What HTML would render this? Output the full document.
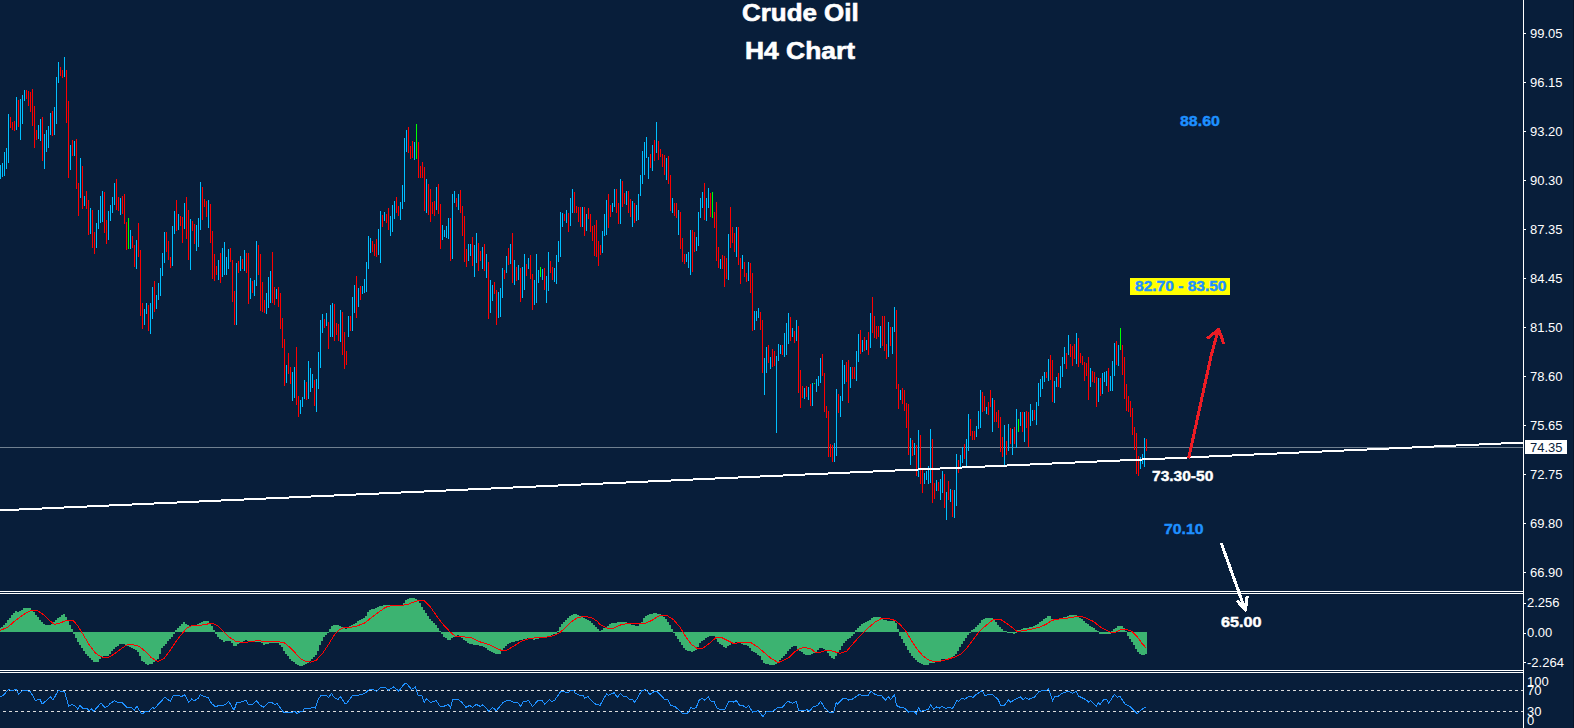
<!DOCTYPE html>
<html><head><meta charset="utf-8"><title>Crude Oil H4 Chart</title>
<style>
html,body{margin:0;padding:0;background:#081e3a;}
body{width:1574px;height:728px;position:relative;overflow:hidden;font-family:"Liberation Sans",sans-serif;}
.t{position:absolute;white-space:nowrap;line-height:1;transform-origin:0 0;}
.ax{color:#fff;font-size:13px;left:1530px;}
.ttl{color:#fff;font-family:"Liberation Sans",sans-serif;font-weight:bold;font-size:23px;-webkit-text-stroke:0.6px #fff;}
.lb{font-family:"Liberation Sans",sans-serif;font-weight:bold;font-size:14px;letter-spacing:0px;-webkit-text-stroke:0.4px currentColor;}
.bl{color:#1e90ff;}
.w{color:#fff;}
</style></head><body>
<svg width="1574" height="728" viewBox="0 0 1574 728" style="position:absolute;left:0;top:0">
<g shape-rendering="crispEdges">
<rect x="0" y="447" width="1523" height="1" fill="#708090"/>
<path fill="#00bfff" d="M0 165v14h1v-14zM2 163v14h1v-14zM4 152v24h1v-24zM6 148v21h1v-21zM8 114v49h1v-49zM16 97v33h1v-33zM20 99v41h1v-41zM22 95v29h1v-29zM24 90v11h1v-11zM38 125v14h1v-14zM40 119v22h1v-22zM44 134v35h1v-35zM46 130v22h1v-22zM48 126v22h1v-22zM50 113v22h1v-22zM54 107v28h1v-28zM56 77v47h1v-47zM58 62v21h1v-21zM64 57v20h1v-20zM70 145v25h1v-25zM74 141v15h1v-15zM80 158v40h1v-40zM84 196v10h1v-10zM90 208v26h1v-26zM96 223v25h1v-25zM98 210v19h1v-19zM100 196v27h1v-27zM102 191v31h1v-31zM108 211v29h1v-29zM110 205v16h1v-16zM112 197v16h1v-16zM114 183v22h1v-22zM120 198v17h1v-17zM130 230v19h1v-19zM136 240v29h1v-29zM144 309v16h1v-16zM146 303v11h1v-11zM150 303v31h1v-31zM152 287v32h1v-32zM156 295v14h1v-14zM158 283v17h1v-17zM160 268v28h1v-28zM162 253v23h1v-23zM164 232v31h1v-31zM172 226v40h1v-40zM174 211v23h1v-23zM178 214v16h1v-16zM184 203v26h1v-26zM190 219v51h1v-51zM196 225v26h1v-26zM198 218v29h1v-29zM200 182v48h1v-48zM208 200v28h1v-28zM218 260v20h1v-20zM222 248v29h1v-29zM224 242v33h1v-33zM226 257v18h1v-18zM228 249v20h1v-20zM236 263v62h1v-62zM240 256v15h1v-15zM244 250v21h1v-21zM250 278v21h1v-21zM254 280v16h1v-16zM256 241v45h1v-45zM266 293v21h1v-21zM268 277v31h1v-31zM270 271v32h1v-32zM276 289v10h1v-10zM286 365v18h1v-18zM292 372v29h1v-29zM294 367v31h1v-31zM300 400v14h1v-14zM302 397v10h1v-10zM304 380v19h1v-19zM308 361v38h1v-38zM310 368v24h1v-24zM312 374v14h1v-14zM316 379v33h1v-33zM318 352v37h1v-37zM320 320v48h1v-48zM322 314v19h1v-19zM326 313v13h1v-13zM330 305v32h1v-32zM332 303v34h1v-34zM340 310v32h1v-32zM348 316v21h1v-21zM352 297v34h1v-34zM354 285v28h1v-28zM358 288v19h1v-19zM362 286v8h1v-8zM364 279v14h1v-14zM366 262v30h1v-30zM368 236v33h1v-33zM370 238v15h1v-15zM378 229v26h1v-26zM380 211v52h1v-52zM384 212v9h1v-9zM390 216v20h1v-20zM392 205v27h1v-27zM394 201v18h1v-18zM400 202v18h1v-18zM402 185v24h1v-24zM404 138v64h1v-64zM406 130v22h1v-22zM414 142v18h1v-18zM426 179v34h1v-34zM436 187v23h1v-23zM442 225v15h1v-15zM444 230v7h1v-7zM446 226v12h1v-12zM448 218v21h1v-21zM452 194v65h1v-65zM454 191v12h1v-12zM458 194v16h1v-16zM468 244v17h1v-17zM470 244v12h1v-12zM474 245v32h1v-32zM476 233v30h1v-30zM482 247v22h1v-22zM486 254v24h1v-24zM490 280v33h1v-33zM492 285v16h1v-16zM498 292v26h1v-26zM500 288v29h1v-29zM502 268v30h1v-30zM506 256v17h1v-17zM510 244v20h1v-20zM514 260v25h1v-25zM518 265v15h1v-15zM522 267v31h1v-31zM524 254v36h1v-36zM528 258v11h1v-11zM534 280v25h1v-25zM536 254v49h1v-49zM538 270v13h1v-13zM542 269v11h1v-11zM546 276v27h1v-27zM548 252v39h1v-39zM554 268v14h1v-14zM556 255v29h1v-29zM558 241v21h1v-21zM560 212v45h1v-45zM562 213v14h1v-14zM566 210v13h1v-13zM570 198v28h1v-28zM572 189v24h1v-24zM582 207v20h1v-20zM586 214v17h1v-17zM602 231v22h1v-22zM604 214v22h1v-22zM606 200v35h1v-35zM612 203v9h1v-9zM614 189v18h1v-18zM620 179v45h1v-45zM626 191v14h1v-14zM632 201v26h1v-26zM636 205v16h1v-16zM638 194v26h1v-26zM640 175v21h1v-21zM642 151v33h1v-33zM644 142v33h1v-33zM646 137v21h1v-21zM648 157v22h1v-22zM652 145v26h1v-26zM656 122v31h1v-31zM666 158v22h1v-22zM672 198v15h1v-15zM678 210v25h1v-25zM686 254v8h1v-8zM688 252v16h1v-16zM690 230v45h1v-45zM696 237v14h1v-14zM698 212v34h1v-34zM700 198v20h1v-20zM702 192v16h1v-16zM706 198v23h1v-23zM708 188v20h1v-20zM720 259v10h1v-10zM728 234v46h1v-46zM736 227v30h1v-30zM742 255v14h1v-14zM748 262v19h1v-19zM754 311v19h1v-19zM756 311v10h1v-10zM758 308v10h1v-10zM764 358v37h1v-37zM766 347v26h1v-26zM770 357v12h1v-12zM776 356v77h1v-77zM778 344v17h1v-17zM780 345v9h1v-9zM784 333v24h1v-24zM786 323v32h1v-32zM788 313v31h1v-31zM792 328v9h1v-9zM796 320v21h1v-21zM804 388v11h1v-11zM808 387v13h1v-13zM812 383v23h1v-23zM816 379v13h1v-13zM818 376v10h1v-10zM820 358v25h1v-25zM834 443v19h1v-19zM836 389v67h1v-67zM840 396v21h1v-21zM842 360v41h1v-41zM844 365v19h1v-19zM850 367v21h1v-21zM856 351v30h1v-30zM858 334v28h1v-28zM862 340v12h1v-12zM866 340v10h1v-10zM870 313v35h1v-35zM880 326v22h1v-22zM888 322v35h1v-35zM892 327v27h1v-27zM894 307v25h1v-25zM900 390v10h1v-10zM910 438v27h1v-27zM914 443v12h1v-12zM918 430v47h1v-47zM924 473v11h1v-11zM926 471v9h1v-9zM928 466v18h1v-18zM930 429v54h1v-54zM936 480v11h1v-11zM940 479v21h1v-21zM942 471v22h1v-22zM946 492v28h1v-28zM950 489v13h1v-13zM954 490v28h1v-28zM956 454v52h1v-52zM960 455v14h1v-14zM962 447v16h1v-16zM966 439v29h1v-29zM968 414v37h1v-37zM976 426v11h1v-11zM978 411v18h1v-18zM980 390v38h1v-38zM986 407v7h1v-7zM992 398v34h1v-34zM1004 425v41h1v-41zM1008 424v27h1v-27zM1012 429v26h1v-26zM1016 409v39h1v-39zM1020 412v14h1v-14zM1024 412v30h1v-30zM1030 404v22h1v-22zM1032 410v11h1v-11zM1036 402v23h1v-23zM1038 383v23h1v-23zM1040 379v18h1v-18zM1042 376v13h1v-13zM1044 372v10h1v-10zM1048 359v22h1v-22zM1054 381v22h1v-22zM1056 377v10h1v-10zM1060 366v22h1v-22zM1062 357v20h1v-20zM1064 347v17h1v-17zM1068 335v20h1v-20zM1076 333v31h1v-31zM1090 368v19h1v-19zM1098 378v24h1v-24zM1102 373v21h1v-21zM1104 372v10h1v-10zM1106 371v15h1v-15zM1110 376v15h1v-15zM1112 361v30h1v-30zM1114 343v33h1v-33zM1118 345v21h1v-21zM1140 457v12h1v-12zM1142 454v10h1v-10zM1144 438v29h1v-29z"/>
<path fill="#ff0000" d="M10 117v11h1v-11zM12 122v8h1v-8zM14 121v10h1v-10zM18 100v27h1v-27zM26 90v9h1v-9zM28 91v15h1v-15zM30 92v20h1v-20zM32 89v37h1v-37zM34 106v42h1v-42zM36 130v10h1v-10zM42 117v44h1v-44zM52 111v25h1v-25zM60 67v9h1v-9zM62 70v8h1v-8zM66 70v53h1v-53zM68 101v77h1v-77zM72 140v16h1v-16zM76 139v50h1v-50zM78 183v33h1v-33zM82 166v43h1v-43zM86 191v18h1v-18zM88 200v35h1v-35zM92 210v38h1v-38zM94 232v22h1v-22zM104 192v41h1v-41zM106 220v24h1v-24zM116 179v31h1v-31zM118 197v14h1v-14zM122 196v18h1v-18zM124 194v30h1v-30zM126 222v28h1v-28zM132 236v12h1v-12zM134 245v22h1v-22zM138 223v34h1v-34zM140 250v66h1v-66zM142 303v26h1v-26zM148 305v26h1v-26zM154 281v31h1v-31zM166 232v20h1v-20zM168 241v19h1v-19zM170 257v11h1v-11zM176 200v31h1v-31zM180 216v10h1v-10zM182 217v26h1v-26zM186 197v42h1v-42zM188 210v50h1v-50zM192 221v10h1v-10zM194 224v20h1v-20zM202 187v33h1v-33zM204 199v8h1v-8zM206 201v16h1v-16zM210 204v39h1v-39zM212 231v48h1v-48zM214 254v27h1v-27zM216 266v9h1v-9zM220 253v30h1v-30zM230 248v14h1v-14zM232 260v42h1v-42zM234 291v34h1v-34zM238 261v12h1v-12zM242 259v10h1v-10zM246 253v20h1v-20zM248 253v51h1v-51zM252 281v12h1v-12zM258 245v30h1v-30zM260 254v57h1v-57zM262 282v30h1v-30zM264 300v13h1v-13zM272 252v51h1v-51zM274 287v18h1v-18zM278 287v20h1v-20zM280 293v36h1v-36zM282 318v30h1v-30zM284 339v47h1v-47zM288 353v21h1v-21zM290 367v17h1v-17zM296 347v58h1v-58zM298 396v21h1v-21zM306 382v18h1v-18zM314 380v26h1v-26zM324 319v9h1v-9zM328 322v27h1v-27zM334 304v37h1v-37zM336 323v12h1v-12zM338 324v17h1v-17zM342 312v43h1v-43zM344 332v37h1v-37zM346 351v14h1v-14zM350 316v15h1v-15zM356 276v42h1v-42zM360 286v14h1v-14zM372 241v11h1v-11zM374 244v12h1v-12zM376 239v18h1v-18zM382 215v12h1v-12zM386 214v9h1v-9zM388 208v22h1v-22zM396 197v16h1v-16zM398 206v10h1v-10zM408 127v26h1v-26zM410 146v13h1v-13zM412 141v17h1v-17zM418 142v36h1v-36zM420 166v12h1v-12zM422 162v16h1v-16zM424 167v44h1v-44zM428 184v31h1v-31zM430 189v33h1v-33zM432 202v12h1v-12zM434 201v15h1v-15zM438 184v30h1v-30zM440 204v45h1v-45zM450 218v43h1v-43zM456 198v9h1v-9zM460 190v23h1v-23zM462 206v30h1v-30zM464 216v46h1v-46zM466 249v18h1v-18zM472 237v29h1v-29zM478 243v28h1v-28zM480 251v10h1v-10zM484 244v27h1v-27zM488 262v57h1v-57zM494 282v12h1v-12zM496 290v35h1v-35zM504 270v9h1v-9zM508 248v17h1v-17zM512 233v50h1v-50zM516 267v14h1v-14zM520 268v34h1v-34zM526 264v12h1v-12zM530 255v24h1v-24zM532 274v36h1v-36zM544 268v22h1v-22zM550 261v12h1v-12zM552 267v13h1v-13zM564 214v7h1v-7zM568 213v19h1v-19zM574 192v21h1v-21zM576 206v7h1v-7zM578 207v15h1v-15zM580 207v20h1v-20zM584 207v29h1v-29zM588 208v11h1v-11zM590 214v18h1v-18zM592 226v15h1v-15zM594 225v31h1v-31zM596 220v37h1v-37zM598 241v25h1v-25zM600 245v10h1v-10zM608 194v34h1v-34zM610 205v12h1v-12zM616 189v24h1v-24zM618 203v21h1v-21zM622 181v26h1v-26zM624 193v11h1v-11zM628 191v22h1v-22zM630 199v18h1v-18zM634 203v20h1v-20zM650 154v14h1v-14zM654 140v21h1v-21zM658 141v19h1v-19zM660 149v8h1v-8zM662 154v13h1v-13zM664 155v20h1v-20zM668 156v28h1v-28zM670 175v36h1v-36zM674 203v13h1v-13zM676 203v15h1v-15zM680 212v37h1v-37zM682 238v24h1v-24zM684 254v10h1v-10zM692 230v42h1v-42zM694 232v20h1v-20zM704 183v37h1v-37zM710 193v24h1v-24zM714 212v16h1v-16zM716 202v59h1v-59zM718 247v21h1v-21zM722 255v14h1v-14zM724 256v31h1v-31zM726 258v21h1v-21zM730 207v41h1v-41zM732 227v16h1v-16zM734 233v19h1v-19zM738 227v38h1v-38zM740 258v26h1v-26zM744 262v15h1v-15zM746 273v9h1v-9zM750 263v30h1v-30zM752 273v58h1v-58zM760 312v18h1v-18zM762 320v53h1v-53zM768 345v18h1v-18zM772 349v18h1v-18zM774 351v15h1v-15zM782 345v10h1v-10zM790 317v24h1v-24zM794 331v12h1v-12zM798 326v67h1v-67zM800 370v38h1v-38zM802 386v12h1v-12zM806 386v11h1v-11zM810 384v22h1v-22zM822 354v22h1v-22zM824 373v39h1v-39zM826 406v12h1v-12zM828 411v46h1v-46zM830 444v13h1v-13zM832 445v17h1v-17zM838 394v19h1v-19zM846 362v20h1v-20zM848 360v43h1v-43zM852 367v12h1v-12zM854 367v12h1v-12zM860 330v24h1v-24zM864 337v14h1v-14zM868 332v23h1v-23zM872 297v36h1v-36zM874 316v22h1v-22zM876 326v13h1v-13zM878 326v11h1v-11zM882 316v30h1v-30zM884 316v35h1v-35zM886 344v15h1v-15zM890 327v19h1v-19zM896 310v79h1v-79zM898 384v25h1v-25zM902 388v16h1v-16zM904 390v21h1v-21zM906 403v25h1v-25zM908 404v51h1v-51zM912 440v16h1v-16zM916 445v31h1v-31zM920 435v49h1v-49zM922 470v23h1v-23zM932 439v64h1v-64zM934 483v16h1v-16zM938 482v9h1v-9zM944 474v34h1v-34zM948 481v19h1v-19zM952 490v27h1v-27zM958 460v13h1v-13zM964 444v15h1v-15zM970 419v17h1v-17zM972 431v9h1v-9zM974 431v9h1v-9zM982 392v20h1v-20zM984 396v15h1v-15zM988 402v13h1v-13zM990 390v17h1v-17zM994 400v22h1v-22zM996 412v10h1v-10zM998 410v18h1v-18zM1000 417v35h1v-35zM1002 437v20h1v-20zM1006 441v14h1v-14zM1010 428v16h1v-16zM1014 427v17h1v-17zM1022 412v20h1v-20zM1026 411v17h1v-17zM1028 412v35h1v-35zM1034 410v10h1v-10zM1046 372v6h1v-6zM1050 355v25h1v-25zM1052 360v42h1v-42zM1058 373v14h1v-14zM1066 353v16h1v-16zM1070 344v13h1v-13zM1072 346v20h1v-20zM1074 344v15h1v-15zM1078 338v29h1v-29zM1080 353v10h1v-10zM1082 356v9h1v-9zM1084 362v19h1v-19zM1086 363v13h1v-13zM1088 357v43h1v-43zM1092 371v11h1v-11zM1094 372v11h1v-11zM1096 377v30h1v-30zM1100 378v18h1v-18zM1108 368v24h1v-24zM1116 341v24h1v-24zM1122 345v30h1v-30zM1124 357v42h1v-42zM1126 384v27h1v-27zM1128 396v16h1v-16zM1130 401v16h1v-16zM1132 408v27h1v-27zM1134 427v23h1v-23zM1136 433v41h1v-41zM1138 456v20h1v-20zM1146 439v12h1v-12z"/>
<path fill="#00ff00" d="M128 218v31h1v-31zM416 124v35h1v-35zM540 267v10h1v-10zM712 192v26h1v-26zM814 383v1h1v-1zM1018 419v13h1v-13zM1120 328v22h1v-22z"/>
<path fill="#3cb371" d="M-1 628h2v4h-2zM1 627h2v5h-2zM3 625h2v7h-2zM5 623h2v9h-2zM7 620h2v12h-2zM9 618h2v14h-2zM11 615h2v17h-2zM13 613h2v19h-2zM15 611h2v21h-2zM17 612h2v20h-2zM19 611h2v21h-2zM21 610h2v22h-2zM23 608h2v24h-2zM25 608h2v24h-2zM27 608h2v24h-2zM29 608h2v24h-2zM31 610h2v22h-2zM33 612h2v20h-2zM35 615h2v17h-2zM37 617h2v15h-2zM39 620h2v12h-2zM41 622h2v10h-2zM43 624h2v8h-2zM45 625h2v7h-2zM47 625h2v7h-2zM49 625h2v7h-2zM51 624h2v8h-2zM53 622h2v10h-2zM55 620h2v12h-2zM57 618h2v14h-2zM59 617h2v15h-2zM61 615h2v17h-2zM63 614h2v18h-2zM65 617h2v15h-2zM67 621h2v11h-2zM69 625h2v7h-2zM71 629h2v3h-2zM73 632h2v2h-2zM75 632h2v6h-2zM77 632h2v10h-2zM79 632h2v13h-2zM81 632h2v16h-2zM83 632h2v19h-2zM85 632h2v22h-2zM87 632h2v24h-2zM89 632h2v26h-2zM91 632h2v28h-2zM93 632h2v30h-2zM95 632h2v30h-2zM97 632h2v30h-2zM99 632h2v27h-2zM101 632h2v25h-2zM103 632h2v24h-2zM105 632h2v24h-2zM107 632h2v24h-2zM109 632h2v22h-2zM111 632h2v19h-2zM113 632h2v17h-2zM115 632h2v15h-2zM117 632h2v14h-2zM119 632h2v12h-2zM121 632h2v12h-2zM123 632h2v12h-2zM125 632h2v13h-2zM127 632h2v14h-2zM129 632h2v15h-2zM131 632h2v16h-2zM133 632h2v17h-2zM135 632h2v18h-2zM137 632h2v20h-2zM139 632h2v24h-2zM141 632h2v29h-2zM143 632h2v30h-2zM145 632h2v32h-2zM147 632h2v33h-2zM149 632h2v32h-2zM151 632h2v32h-2zM153 632h2v30h-2zM155 632h2v29h-2zM157 632h2v27h-2zM159 632h2v22h-2zM161 632h2v16h-2zM163 632h2v14h-2zM165 632h2v12h-2zM167 632h2v9h-2zM169 632h2v7h-2zM171 632h2v5h-2zM173 632h2v2h-2zM175 630h2v2h-2zM177 628h2v4h-2zM179 626h2v6h-2zM181 624h2v8h-2zM183 622h2v10h-2zM185 624h2v8h-2zM187 625h2v7h-2zM189 626h2v6h-2zM191 626h2v6h-2zM193 626h2v6h-2zM195 625h2v7h-2zM197 624h2v8h-2zM199 623h2v9h-2zM201 622h2v10h-2zM203 621h2v11h-2zM205 621h2v11h-2zM207 621h2v11h-2zM209 623h2v9h-2zM211 626h2v6h-2zM213 630h2v2h-2zM215 632h2v2h-2zM217 632h2v5h-2zM219 632h2v7h-2zM221 632h2v8h-2zM223 632h2v10h-2zM225 632h2v9h-2zM227 632h2v9h-2zM229 632h2v9h-2zM231 632h2v11h-2zM233 632h2v14h-2zM235 632h2v14h-2zM237 632h2v12h-2zM239 632h2v11h-2zM241 632h2v10h-2zM243 632h2v9h-2zM245 632h2v8h-2zM247 632h2v9h-2zM249 632h2v9h-2zM251 632h2v10h-2zM253 632h2v10h-2zM255 632h2v10h-2zM257 632h2v10h-2zM259 632h2v10h-2zM261 632h2v11h-2zM263 632h2v13h-2zM265 632h2v12h-2zM267 632h2v12h-2zM269 632h2v11h-2zM271 632h2v11h-2zM273 632h2v11h-2zM275 632h2v11h-2zM277 632h2v11h-2zM279 632h2v13h-2zM281 632h2v15h-2zM283 632h2v19h-2zM285 632h2v22h-2zM287 632h2v24h-2zM289 632h2v27h-2zM291 632h2v29h-2zM293 632h2v30h-2zM295 632h2v32h-2zM297 632h2v33h-2zM299 632h2v34h-2zM301 632h2v34h-2zM303 632h2v33h-2zM305 632h2v32h-2zM307 632h2v31h-2zM309 632h2v29h-2zM311 632h2v27h-2zM313 632h2v25h-2zM315 632h2v23h-2zM317 632h2v19h-2zM319 632h2v13h-2zM321 632h2v9h-2zM323 632h2v5h-2zM325 632h2v3h-2zM327 632h2v1h-2zM329 629h2v3h-2zM331 626h2v6h-2zM333 625h2v7h-2zM335 625h2v7h-2zM337 625h2v7h-2zM339 626h2v6h-2zM341 627h2v5h-2zM343 628h2v4h-2zM345 629h2v3h-2zM347 628h2v4h-2zM349 626h2v6h-2zM351 625h2v7h-2zM353 624h2v8h-2zM355 623h2v9h-2zM357 621h2v11h-2zM359 620h2v12h-2zM361 619h2v13h-2zM363 618h2v14h-2zM365 616h2v16h-2zM367 612h2v20h-2zM369 610h2v22h-2zM371 609h2v23h-2zM373 609h2v23h-2zM375 608h2v24h-2zM377 607h2v25h-2zM379 606h2v26h-2zM381 606h2v26h-2zM383 605h2v27h-2zM385 605h2v27h-2zM387 605h2v27h-2zM389 605h2v27h-2zM391 605h2v27h-2zM393 605h2v27h-2zM395 605h2v27h-2zM397 605h2v27h-2zM399 606h2v26h-2zM401 606h2v26h-2zM403 603h2v29h-2zM405 600h2v32h-2zM407 599h2v33h-2zM409 598h2v34h-2zM411 598h2v34h-2zM413 598h2v34h-2zM415 599h2v33h-2zM417 601h2v31h-2zM419 603h2v29h-2zM421 607h2v25h-2zM423 610h2v22h-2zM425 613h2v19h-2zM427 616h2v16h-2zM429 619h2v13h-2zM431 621h2v11h-2zM433 623h2v9h-2zM435 625h2v7h-2zM437 628h2v4h-2zM439 631h2v1h-2zM441 632h2v2h-2zM443 632h2v5h-2zM445 632h2v6h-2zM447 632h2v8h-2zM449 632h2v8h-2zM451 632h2v6h-2zM453 632h2v5h-2zM455 632h2v4h-2zM457 632h2v3h-2zM459 632h2v4h-2zM461 632h2v6h-2zM463 632h2v8h-2zM465 632h2v9h-2zM467 632h2v11h-2zM469 632h2v12h-2zM471 632h2v12h-2zM473 632h2v13h-2zM475 632h2v13h-2zM477 632h2v13h-2zM479 632h2v14h-2zM481 632h2v14h-2zM483 632h2v15h-2zM485 632h2v16h-2zM487 632h2v18h-2zM489 632h2v19h-2zM491 632h2v20h-2zM493 632h2v21h-2zM495 632h2v22h-2zM497 632h2v22h-2zM499 632h2v22h-2zM501 632h2v19h-2zM503 632h2v16h-2zM505 632h2v14h-2zM507 632h2v12h-2zM509 632h2v11h-2zM511 632h2v10h-2zM513 632h2v10h-2zM515 632h2v9h-2zM517 632h2v9h-2zM519 632h2v8h-2zM521 632h2v8h-2zM523 632h2v7h-2zM525 632h2v7h-2zM527 632h2v6h-2zM529 632h2v7h-2zM531 632h2v7h-2zM533 632h2v8h-2zM535 632h2v7h-2zM537 632h2v7h-2zM539 632h2v6h-2zM541 632h2v5h-2zM543 632h2v5h-2zM545 632h2v5h-2zM547 632h2v4h-2zM549 632h2v4h-2zM551 632h2v3h-2zM553 632h2v2h-2zM555 632h2v2h-2zM557 631h2v1h-2zM559 627h2v5h-2zM561 624h2v8h-2zM563 622h2v10h-2zM565 620h2v12h-2zM567 618h2v14h-2zM569 616h2v16h-2zM571 615h2v17h-2zM573 614h2v18h-2zM575 614h2v18h-2zM577 615h2v17h-2zM579 616h2v16h-2zM581 617h2v15h-2zM583 618h2v14h-2zM585 619h2v13h-2zM587 620h2v12h-2zM589 621h2v11h-2zM591 623h2v9h-2zM593 625h2v7h-2zM595 627h2v5h-2zM597 629h2v3h-2zM599 631h2v1h-2zM601 630h2v2h-2zM603 628h2v4h-2zM605 627h2v5h-2zM607 626h2v6h-2zM609 624h2v8h-2zM611 623h2v9h-2zM613 623h2v9h-2zM615 623h2v9h-2zM617 622h2v10h-2zM619 622h2v10h-2zM621 622h2v10h-2zM623 622h2v10h-2zM625 622h2v10h-2zM627 623h2v9h-2zM629 624h2v8h-2zM631 625h2v7h-2zM633 625h2v7h-2zM635 626h2v6h-2zM637 626h2v6h-2zM639 624h2v8h-2zM641 622h2v10h-2zM643 618h2v14h-2zM645 616h2v16h-2zM647 615h2v17h-2zM649 614h2v18h-2zM651 614h2v18h-2zM653 613h2v19h-2zM655 613h2v19h-2zM657 614h2v18h-2zM659 614h2v18h-2zM661 616h2v16h-2zM663 617h2v15h-2zM665 619h2v13h-2zM667 622h2v10h-2zM669 625h2v7h-2zM671 629h2v3h-2zM673 632h2v1h-2zM675 632h2v4h-2zM677 632h2v7h-2zM679 632h2v10h-2zM681 632h2v13h-2zM683 632h2v16h-2zM685 632h2v18h-2zM687 632h2v19h-2zM689 632h2v19h-2zM691 632h2v20h-2zM693 632h2v19h-2zM695 632h2v18h-2zM697 632h2v15h-2zM699 632h2v11h-2zM701 632h2v9h-2zM703 632h2v8h-2zM705 632h2v6h-2zM707 632h2v5h-2zM709 632h2v4h-2zM711 632h2v4h-2zM713 632h2v4h-2zM715 632h2v7h-2zM717 632h2v10h-2zM719 632h2v12h-2zM721 632h2v13h-2zM723 632h2v15h-2zM725 632h2v16h-2zM727 632h2v14h-2zM729 632h2v13h-2zM731 632h2v11h-2zM733 632h2v11h-2zM735 632h2v10h-2zM737 632h2v10h-2zM739 632h2v11h-2zM741 632h2v12h-2zM743 632h2v13h-2zM745 632h2v13h-2zM747 632h2v14h-2zM749 632h2v16h-2zM751 632h2v19h-2zM753 632h2v20h-2zM755 632h2v21h-2zM757 632h2v23h-2zM759 632h2v24h-2zM761 632h2v28h-2zM763 632h2v31h-2zM765 632h2v32h-2zM767 632h2v32h-2zM769 632h2v33h-2zM771 632h2v33h-2zM773 632h2v33h-2zM775 632h2v32h-2zM777 632h2v30h-2zM779 632h2v28h-2zM781 632h2v26h-2zM783 632h2v24h-2zM785 632h2v22h-2zM787 632h2v19h-2zM789 632h2v17h-2zM791 632h2v15h-2zM793 632h2v14h-2zM795 632h2v14h-2zM797 632h2v17h-2zM799 632h2v19h-2zM801 632h2v20h-2zM803 632h2v22h-2zM805 632h2v23h-2zM807 632h2v23h-2zM809 632h2v23h-2zM811 632h2v22h-2zM813 632h2v21h-2zM815 632h2v20h-2zM817 632h2v18h-2zM819 632h2v16h-2zM821 632h2v16h-2zM823 632h2v17h-2zM825 632h2v18h-2zM827 632h2v21h-2zM829 632h2v24h-2zM831 632h2v26h-2zM833 632h2v27h-2zM835 632h2v24h-2zM837 632h2v21h-2zM839 632h2v18h-2zM841 632h2v14h-2zM843 632h2v11h-2zM845 632h2v9h-2zM847 632h2v7h-2zM849 632h2v6h-2zM851 632h2v4h-2zM853 632h2v2h-2zM855 630h2v2h-2zM857 628h2v4h-2zM859 626h2v6h-2zM861 624h2v8h-2zM863 623h2v9h-2zM865 622h2v10h-2zM867 621h2v11h-2zM869 620h2v12h-2zM871 618h2v14h-2zM873 617h2v15h-2zM875 617h2v15h-2zM877 617h2v15h-2zM879 617h2v15h-2zM881 618h2v14h-2zM883 620h2v12h-2zM885 620h2v12h-2zM887 621h2v11h-2zM889 621h2v11h-2zM891 621h2v11h-2zM893 621h2v11h-2zM895 623h2v9h-2zM897 629h2v3h-2zM899 632h2v4h-2zM901 632h2v7h-2zM903 632h2v11h-2zM905 632h2v14h-2zM907 632h2v18h-2zM909 632h2v21h-2zM911 632h2v24h-2zM913 632h2v26h-2zM915 632h2v28h-2zM917 632h2v30h-2zM919 632h2v31h-2zM921 632h2v32h-2zM923 632h2v33h-2zM925 632h2v33h-2zM927 632h2v33h-2zM929 632h2v31h-2zM931 632h2v31h-2zM933 632h2v31h-2zM935 632h2v30h-2zM937 632h2v29h-2zM939 632h2v29h-2zM941 632h2v27h-2zM943 632h2v27h-2zM945 632h2v27h-2zM947 632h2v28h-2zM949 632h2v27h-2zM951 632h2v26h-2zM953 632h2v24h-2zM955 632h2v22h-2zM957 632h2v19h-2zM959 632h2v15h-2zM961 632h2v12h-2zM963 632h2v9h-2zM965 632h2v6h-2zM967 632h2v3h-2zM969 632h2v1h-2zM971 630h2v2h-2zM973 629h2v3h-2zM975 627h2v5h-2zM977 625h2v7h-2zM979 623h2v9h-2zM981 620h2v12h-2zM983 619h2v13h-2zM985 618h2v14h-2zM987 618h2v14h-2zM989 618h2v14h-2zM991 618h2v14h-2zM993 620h2v12h-2zM995 622h2v10h-2zM997 625h2v7h-2zM999 627h2v5h-2zM1001 629h2v3h-2zM1003 631h2v1h-2zM1005 631h2v1h-2zM1007 632h2v1h-2zM1009 632h2v1h-2zM1011 632h2v1h-2zM1013 632h2v2h-2zM1015 632h2v1h-2zM1017 630h2v2h-2zM1019 630h2v2h-2zM1021 629h2v3h-2zM1023 628h2v4h-2zM1025 628h2v4h-2zM1027 628h2v4h-2zM1029 627h2v5h-2zM1031 627h2v5h-2zM1033 626h2v6h-2zM1035 625h2v7h-2zM1037 624h2v8h-2zM1039 622h2v10h-2zM1041 621h2v11h-2zM1043 619h2v13h-2zM1045 618h2v14h-2zM1047 616h2v16h-2zM1049 616h2v16h-2zM1051 619h2v13h-2zM1053 619h2v13h-2zM1055 619h2v13h-2zM1057 619h2v13h-2zM1059 618h2v14h-2zM1061 618h2v14h-2zM1063 617h2v15h-2zM1065 617h2v15h-2zM1067 616h2v16h-2zM1069 615h2v17h-2zM1071 615h2v17h-2zM1073 615h2v17h-2zM1075 615h2v17h-2zM1077 617h2v15h-2zM1079 618h2v14h-2zM1081 619h2v13h-2zM1083 621h2v11h-2zM1085 623h2v9h-2zM1087 624h2v8h-2zM1089 626h2v6h-2zM1091 627h2v5h-2zM1093 628h2v4h-2zM1095 630h2v2h-2zM1097 631h2v1h-2zM1099 632h2v2h-2zM1101 632h2v2h-2zM1103 632h2v2h-2zM1105 632h2v2h-2zM1107 632h2v2h-2zM1109 632h2v2h-2zM1111 631h2v1h-2zM1113 629h2v3h-2zM1115 628h2v4h-2zM1117 626h2v6h-2zM1119 626h2v6h-2zM1121 626h2v6h-2zM1123 628h2v4h-2zM1125 631h2v1h-2zM1127 632h2v4h-2zM1129 632h2v7h-2zM1131 632h2v10h-2zM1133 632h2v13h-2zM1135 632h2v17h-2zM1137 632h2v20h-2zM1139 632h2v22h-2zM1141 632h2v23h-2zM1143 632h2v23h-2zM1145 632h2v22h-2z"/>
<rect x="0" y="591" width="1524" height="1" fill="#fff"/>
<rect x="0" y="593" width="1524" height="1" fill="#fff"/>
<rect x="0" y="670" width="1524" height="1" fill="#fff"/>
<rect x="0" y="672" width="1524" height="1" fill="#fff"/>
<rect x="1523" y="0" width="1" height="728" fill="#fff"/>
<rect x="1524" y="33" width="2" height="1" fill="#fff"/>
<rect x="1524" y="82" width="2" height="1" fill="#fff"/>
<rect x="1524" y="131" width="2" height="1" fill="#fff"/>
<rect x="1524" y="180" width="2" height="1" fill="#fff"/>
<rect x="1524" y="229" width="2" height="1" fill="#fff"/>
<rect x="1524" y="278" width="2" height="1" fill="#fff"/>
<rect x="1524" y="327" width="2" height="1" fill="#fff"/>
<rect x="1524" y="376" width="2" height="1" fill="#fff"/>
<rect x="1524" y="425" width="2" height="1" fill="#fff"/>
<rect x="1524" y="474" width="2" height="1" fill="#fff"/>
<rect x="1524" y="523" width="2" height="1" fill="#fff"/>
<rect x="1524" y="572" width="2" height="1" fill="#fff"/>
<rect x="1524" y="603" width="2" height="1" fill="#fff"/>
<rect x="1524" y="633" width="2" height="1" fill="#fff"/>
<rect x="1524" y="662" width="2" height="1" fill="#fff"/>
<rect x="1573" y="0" width="1" height="728" fill="#05142a"/>
<rect x="1525" y="440" width="42" height="14" fill="#fff"/>
<rect x="1130" y="278" width="100" height="17" fill="#ffff00"/>
<path fill="#dcdcdc" d="M3 690h3v1h-3zM9 690h3v1h-3zM15 690h3v1h-3zM21 690h3v1h-3zM27 690h3v1h-3zM33 690h3v1h-3zM39 690h3v1h-3zM45 690h3v1h-3zM51 690h3v1h-3zM57 690h3v1h-3zM63 690h3v1h-3zM69 690h3v1h-3zM75 690h3v1h-3zM81 690h3v1h-3zM87 690h3v1h-3zM93 690h3v1h-3zM99 690h3v1h-3zM105 690h3v1h-3zM111 690h3v1h-3zM117 690h3v1h-3zM123 690h3v1h-3zM129 690h3v1h-3zM135 690h3v1h-3zM141 690h3v1h-3zM147 690h3v1h-3zM153 690h3v1h-3zM159 690h3v1h-3zM165 690h3v1h-3zM171 690h3v1h-3zM177 690h3v1h-3zM183 690h3v1h-3zM189 690h3v1h-3zM195 690h3v1h-3zM201 690h3v1h-3zM207 690h3v1h-3zM213 690h3v1h-3zM219 690h3v1h-3zM225 690h3v1h-3zM231 690h3v1h-3zM237 690h3v1h-3zM243 690h3v1h-3zM249 690h3v1h-3zM255 690h3v1h-3zM261 690h3v1h-3zM267 690h3v1h-3zM273 690h3v1h-3zM279 690h3v1h-3zM285 690h3v1h-3zM291 690h3v1h-3zM297 690h3v1h-3zM303 690h3v1h-3zM309 690h3v1h-3zM315 690h3v1h-3zM321 690h3v1h-3zM327 690h3v1h-3zM333 690h3v1h-3zM339 690h3v1h-3zM345 690h3v1h-3zM351 690h3v1h-3zM357 690h3v1h-3zM363 690h3v1h-3zM369 690h3v1h-3zM375 690h3v1h-3zM381 690h3v1h-3zM387 690h3v1h-3zM393 690h3v1h-3zM399 690h3v1h-3zM405 690h3v1h-3zM411 690h3v1h-3zM417 690h3v1h-3zM423 690h3v1h-3zM429 690h3v1h-3zM435 690h3v1h-3zM441 690h3v1h-3zM447 690h3v1h-3zM453 690h3v1h-3zM459 690h3v1h-3zM465 690h3v1h-3zM471 690h3v1h-3zM477 690h3v1h-3zM483 690h3v1h-3zM489 690h3v1h-3zM495 690h3v1h-3zM501 690h3v1h-3zM507 690h3v1h-3zM513 690h3v1h-3zM519 690h3v1h-3zM525 690h3v1h-3zM531 690h3v1h-3zM537 690h3v1h-3zM543 690h3v1h-3zM549 690h3v1h-3zM555 690h3v1h-3zM561 690h3v1h-3zM567 690h3v1h-3zM573 690h3v1h-3zM579 690h3v1h-3zM585 690h3v1h-3zM591 690h3v1h-3zM597 690h3v1h-3zM603 690h3v1h-3zM609 690h3v1h-3zM615 690h3v1h-3zM621 690h3v1h-3zM627 690h3v1h-3zM633 690h3v1h-3zM639 690h3v1h-3zM645 690h3v1h-3zM651 690h3v1h-3zM657 690h3v1h-3zM663 690h3v1h-3zM669 690h3v1h-3zM675 690h3v1h-3zM681 690h3v1h-3zM687 690h3v1h-3zM693 690h3v1h-3zM699 690h3v1h-3zM705 690h3v1h-3zM711 690h3v1h-3zM717 690h3v1h-3zM723 690h3v1h-3zM729 690h3v1h-3zM735 690h3v1h-3zM741 690h3v1h-3zM747 690h3v1h-3zM753 690h3v1h-3zM759 690h3v1h-3zM765 690h3v1h-3zM771 690h3v1h-3zM777 690h3v1h-3zM783 690h3v1h-3zM789 690h3v1h-3zM795 690h3v1h-3zM801 690h3v1h-3zM807 690h3v1h-3zM813 690h3v1h-3zM819 690h3v1h-3zM825 690h3v1h-3zM831 690h3v1h-3zM837 690h3v1h-3zM843 690h3v1h-3zM849 690h3v1h-3zM855 690h3v1h-3zM861 690h3v1h-3zM867 690h3v1h-3zM873 690h3v1h-3zM879 690h3v1h-3zM885 690h3v1h-3zM891 690h3v1h-3zM897 690h3v1h-3zM903 690h3v1h-3zM909 690h3v1h-3zM915 690h3v1h-3zM921 690h3v1h-3zM927 690h3v1h-3zM933 690h3v1h-3zM939 690h3v1h-3zM945 690h3v1h-3zM951 690h3v1h-3zM957 690h3v1h-3zM963 690h3v1h-3zM969 690h3v1h-3zM975 690h3v1h-3zM981 690h3v1h-3zM987 690h3v1h-3zM993 690h3v1h-3zM999 690h3v1h-3zM1005 690h3v1h-3zM1011 690h3v1h-3zM1017 690h3v1h-3zM1023 690h3v1h-3zM1029 690h3v1h-3zM1035 690h3v1h-3zM1041 690h3v1h-3zM1047 690h3v1h-3zM1053 690h3v1h-3zM1059 690h3v1h-3zM1065 690h3v1h-3zM1071 690h3v1h-3zM1077 690h3v1h-3zM1083 690h3v1h-3zM1089 690h3v1h-3zM1095 690h3v1h-3zM1101 690h3v1h-3zM1107 690h3v1h-3zM1113 690h3v1h-3zM1119 690h3v1h-3zM1125 690h3v1h-3zM1131 690h3v1h-3zM1137 690h3v1h-3zM1143 690h3v1h-3zM1149 690h3v1h-3zM1155 690h3v1h-3zM1161 690h3v1h-3zM1167 690h3v1h-3zM1173 690h3v1h-3zM1179 690h3v1h-3zM1185 690h3v1h-3zM1191 690h3v1h-3zM1197 690h3v1h-3zM1203 690h3v1h-3zM1209 690h3v1h-3zM1215 690h3v1h-3zM1221 690h3v1h-3zM1227 690h3v1h-3zM1233 690h3v1h-3zM1239 690h3v1h-3zM1245 690h3v1h-3zM1251 690h3v1h-3zM1257 690h3v1h-3zM1263 690h3v1h-3zM1269 690h3v1h-3zM1275 690h3v1h-3zM1281 690h3v1h-3zM1287 690h3v1h-3zM1293 690h3v1h-3zM1299 690h3v1h-3zM1305 690h3v1h-3zM1311 690h3v1h-3zM1317 690h3v1h-3zM1323 690h3v1h-3zM1329 690h3v1h-3zM1335 690h3v1h-3zM1341 690h3v1h-3zM1347 690h3v1h-3zM1353 690h3v1h-3zM1359 690h3v1h-3zM1365 690h3v1h-3zM1371 690h3v1h-3zM1377 690h3v1h-3zM1383 690h3v1h-3zM1389 690h3v1h-3zM1395 690h3v1h-3zM1401 690h3v1h-3zM1407 690h3v1h-3zM1413 690h3v1h-3zM1419 690h3v1h-3zM1425 690h3v1h-3zM1431 690h3v1h-3zM1437 690h3v1h-3zM1443 690h3v1h-3zM1449 690h3v1h-3zM1455 690h3v1h-3zM1461 690h3v1h-3zM1467 690h3v1h-3zM1473 690h3v1h-3zM1479 690h3v1h-3zM1485 690h3v1h-3zM1491 690h3v1h-3zM1497 690h3v1h-3zM1503 690h3v1h-3zM1509 690h3v1h-3zM1515 690h3v1h-3zM1521 690h2v1h-2zM3 711h3v1h-3zM9 711h3v1h-3zM15 711h3v1h-3zM21 711h3v1h-3zM27 711h3v1h-3zM33 711h3v1h-3zM39 711h3v1h-3zM45 711h3v1h-3zM51 711h3v1h-3zM57 711h3v1h-3zM63 711h3v1h-3zM69 711h3v1h-3zM75 711h3v1h-3zM81 711h3v1h-3zM87 711h3v1h-3zM93 711h3v1h-3zM99 711h3v1h-3zM105 711h3v1h-3zM111 711h3v1h-3zM117 711h3v1h-3zM123 711h3v1h-3zM129 711h3v1h-3zM135 711h3v1h-3zM141 711h3v1h-3zM147 711h3v1h-3zM153 711h3v1h-3zM159 711h3v1h-3zM165 711h3v1h-3zM171 711h3v1h-3zM177 711h3v1h-3zM183 711h3v1h-3zM189 711h3v1h-3zM195 711h3v1h-3zM201 711h3v1h-3zM207 711h3v1h-3zM213 711h3v1h-3zM219 711h3v1h-3zM225 711h3v1h-3zM231 711h3v1h-3zM237 711h3v1h-3zM243 711h3v1h-3zM249 711h3v1h-3zM255 711h3v1h-3zM261 711h3v1h-3zM267 711h3v1h-3zM273 711h3v1h-3zM279 711h3v1h-3zM285 711h3v1h-3zM291 711h3v1h-3zM297 711h3v1h-3zM303 711h3v1h-3zM309 711h3v1h-3zM315 711h3v1h-3zM321 711h3v1h-3zM327 711h3v1h-3zM333 711h3v1h-3zM339 711h3v1h-3zM345 711h3v1h-3zM351 711h3v1h-3zM357 711h3v1h-3zM363 711h3v1h-3zM369 711h3v1h-3zM375 711h3v1h-3zM381 711h3v1h-3zM387 711h3v1h-3zM393 711h3v1h-3zM399 711h3v1h-3zM405 711h3v1h-3zM411 711h3v1h-3zM417 711h3v1h-3zM423 711h3v1h-3zM429 711h3v1h-3zM435 711h3v1h-3zM441 711h3v1h-3zM447 711h3v1h-3zM453 711h3v1h-3zM459 711h3v1h-3zM465 711h3v1h-3zM471 711h3v1h-3zM477 711h3v1h-3zM483 711h3v1h-3zM489 711h3v1h-3zM495 711h3v1h-3zM501 711h3v1h-3zM507 711h3v1h-3zM513 711h3v1h-3zM519 711h3v1h-3zM525 711h3v1h-3zM531 711h3v1h-3zM537 711h3v1h-3zM543 711h3v1h-3zM549 711h3v1h-3zM555 711h3v1h-3zM561 711h3v1h-3zM567 711h3v1h-3zM573 711h3v1h-3zM579 711h3v1h-3zM585 711h3v1h-3zM591 711h3v1h-3zM597 711h3v1h-3zM603 711h3v1h-3zM609 711h3v1h-3zM615 711h3v1h-3zM621 711h3v1h-3zM627 711h3v1h-3zM633 711h3v1h-3zM639 711h3v1h-3zM645 711h3v1h-3zM651 711h3v1h-3zM657 711h3v1h-3zM663 711h3v1h-3zM669 711h3v1h-3zM675 711h3v1h-3zM681 711h3v1h-3zM687 711h3v1h-3zM693 711h3v1h-3zM699 711h3v1h-3zM705 711h3v1h-3zM711 711h3v1h-3zM717 711h3v1h-3zM723 711h3v1h-3zM729 711h3v1h-3zM735 711h3v1h-3zM741 711h3v1h-3zM747 711h3v1h-3zM753 711h3v1h-3zM759 711h3v1h-3zM765 711h3v1h-3zM771 711h3v1h-3zM777 711h3v1h-3zM783 711h3v1h-3zM789 711h3v1h-3zM795 711h3v1h-3zM801 711h3v1h-3zM807 711h3v1h-3zM813 711h3v1h-3zM819 711h3v1h-3zM825 711h3v1h-3zM831 711h3v1h-3zM837 711h3v1h-3zM843 711h3v1h-3zM849 711h3v1h-3zM855 711h3v1h-3zM861 711h3v1h-3zM867 711h3v1h-3zM873 711h3v1h-3zM879 711h3v1h-3zM885 711h3v1h-3zM891 711h3v1h-3zM897 711h3v1h-3zM903 711h3v1h-3zM909 711h3v1h-3zM915 711h3v1h-3zM921 711h3v1h-3zM927 711h3v1h-3zM933 711h3v1h-3zM939 711h3v1h-3zM945 711h3v1h-3zM951 711h3v1h-3zM957 711h3v1h-3zM963 711h3v1h-3zM969 711h3v1h-3zM975 711h3v1h-3zM981 711h3v1h-3zM987 711h3v1h-3zM993 711h3v1h-3zM999 711h3v1h-3zM1005 711h3v1h-3zM1011 711h3v1h-3zM1017 711h3v1h-3zM1023 711h3v1h-3zM1029 711h3v1h-3zM1035 711h3v1h-3zM1041 711h3v1h-3zM1047 711h3v1h-3zM1053 711h3v1h-3zM1059 711h3v1h-3zM1065 711h3v1h-3zM1071 711h3v1h-3zM1077 711h3v1h-3zM1083 711h3v1h-3zM1089 711h3v1h-3zM1095 711h3v1h-3zM1101 711h3v1h-3zM1107 711h3v1h-3zM1113 711h3v1h-3zM1119 711h3v1h-3zM1125 711h3v1h-3zM1131 711h3v1h-3zM1137 711h3v1h-3zM1143 711h3v1h-3zM1149 711h3v1h-3zM1155 711h3v1h-3zM1161 711h3v1h-3zM1167 711h3v1h-3zM1173 711h3v1h-3zM1179 711h3v1h-3zM1185 711h3v1h-3zM1191 711h3v1h-3zM1197 711h3v1h-3zM1203 711h3v1h-3zM1209 711h3v1h-3zM1215 711h3v1h-3zM1221 711h3v1h-3zM1227 711h3v1h-3zM1233 711h3v1h-3zM1239 711h3v1h-3zM1245 711h3v1h-3zM1251 711h3v1h-3zM1257 711h3v1h-3zM1263 711h3v1h-3zM1269 711h3v1h-3zM1275 711h3v1h-3zM1281 711h3v1h-3zM1287 711h3v1h-3zM1293 711h3v1h-3zM1299 711h3v1h-3zM1305 711h3v1h-3zM1311 711h3v1h-3zM1317 711h3v1h-3zM1323 711h3v1h-3zM1329 711h3v1h-3zM1335 711h3v1h-3zM1341 711h3v1h-3zM1347 711h3v1h-3zM1353 711h3v1h-3zM1359 711h3v1h-3zM1365 711h3v1h-3zM1371 711h3v1h-3zM1377 711h3v1h-3zM1383 711h3v1h-3zM1389 711h3v1h-3zM1395 711h3v1h-3zM1401 711h3v1h-3zM1407 711h3v1h-3zM1413 711h3v1h-3zM1419 711h3v1h-3zM1425 711h3v1h-3zM1431 711h3v1h-3zM1437 711h3v1h-3zM1443 711h3v1h-3zM1449 711h3v1h-3zM1455 711h3v1h-3zM1461 711h3v1h-3zM1467 711h3v1h-3zM1473 711h3v1h-3zM1479 711h3v1h-3zM1485 711h3v1h-3zM1491 711h3v1h-3zM1497 711h3v1h-3zM1503 711h3v1h-3zM1509 711h3v1h-3zM1515 711h3v1h-3zM1521 711h2v1h-2z"/>
<path fill="#fff" d="M0 509h19v2h-19zM19 508h23v2h-23zM42 507h22v2h-22zM64 506h23v2h-23zM87 505h22v2h-22zM109 504h23v2h-23zM132 503h22v2h-22zM154 502h23v2h-23zM177 501h22v2h-22zM199 500h22v2h-22zM221 499h23v2h-23zM244 498h22v2h-22zM266 497h23v2h-23zM289 496h22v2h-22zM311 495h23v2h-23zM334 494h22v2h-22zM356 493h23v2h-23zM379 492h22v2h-22zM401 491h23v2h-23zM424 490h22v2h-22zM446 489h22v2h-22zM468 488h23v2h-23zM491 487h22v2h-22zM513 486h23v2h-23zM536 485h22v2h-22zM558 484h23v2h-23zM581 483h22v2h-22zM603 482h23v2h-23zM626 481h22v2h-22zM648 480h23v2h-23zM671 479h22v2h-22zM693 478h22v2h-22zM715 477h23v2h-23zM738 476h22v2h-22zM760 475h23v2h-23zM783 474h22v2h-22zM805 473h23v2h-23zM828 472h22v2h-22zM850 471h23v2h-23zM873 470h22v2h-22zM895 469h23v2h-23zM918 468h22v2h-22zM940 467h22v2h-22zM962 466h23v2h-23zM985 465h22v2h-22zM1007 464h23v2h-23zM1030 463h22v2h-22zM1052 462h23v2h-23zM1075 461h22v2h-22zM1097 460h23v2h-23zM1120 459h22v2h-22zM1142 458h23v2h-23zM1165 457h22v2h-22zM1187 456h22v2h-22zM1209 455h23v2h-23zM1232 454h22v2h-22zM1254 453h23v2h-23zM1277 452h22v2h-22zM1299 451h23v2h-23zM1322 450h22v2h-22zM1344 449h23v2h-23zM1367 448h22v2h-22zM1389 447h23v2h-23zM1412 446h22v2h-22zM1434 445h22v2h-22zM1456 444h23v2h-23zM1479 443h22v2h-22zM1501 442h22v2h-22z"/>
</g>
<polyline points="0.0,630.5 7.6,627.3 15.2,620.6 22.9,614.9 30.5,610.7 37.2,610.5 43.8,614.9 49.6,620.6 54.3,624.4 59.1,623.4 65.8,620.6 73.4,620.6 78.1,626.3 83.9,635.8 89.6,645.4 95.3,653.0 101.0,656.8 107.7,657.8 114.4,653.9 122.0,648.2 127.7,644.4 133.4,644.8 139.1,646.3 144.9,651.1 151.5,657.8 158.2,661.6 163.9,658.7 169.6,651.1 175.3,642.5 181.1,634.9 186.8,628.2 191.6,625.7 198.2,625.7 205.8,624.4 211.6,623.1 217.3,625.4 223.0,631.1 228.7,636.8 236.3,641.6 244.0,642.5 251.6,641.6 257.3,640.6 266.8,641.6 276.4,641.6 284.0,642.5 289.7,647.3 295.4,653.0 300.0,658.3 305.7,661.6 310.5,662.1 316.2,660.2 322.9,653.0 328.6,644.4 334.3,634.9 339.1,630.1 343.8,627.6 350.5,627.3 357.2,625.9 364.8,622.9 372.4,616.8 380.1,611.1 385.8,607.2 391.5,605.7 399.1,605.3 406.7,604.8 412.5,602.5 418.2,600.6 423.9,600.6 430.6,607.2 437.2,616.8 443.9,625.4 450.6,632.4 455.3,636.2 463.0,636.8 471.5,637.7 479.2,641.6 488.7,644.4 496.3,648.2 502.0,650.7 506.8,650.1 513.5,646.3 521.1,641.2 528.7,638.7 536.3,637.7 545.9,637.2 553.5,635.8 559.2,633.0 564.9,628.2 570.6,622.5 576.4,618.3 583.0,616.4 590.7,617.3 596.4,620.6 600.0,624.4 607.6,628.2 613.3,628.2 621.0,624.8 628.6,623.4 636.2,623.4 643.8,624.0 651.5,620.6 659.1,615.8 666.7,615.4 673.4,619.6 680.1,627.3 685.8,636.8 691.5,644.4 697.2,648.6 702.9,648.2 709.6,643.1 716.3,637.4 722.0,637.7 727.7,640.6 733.4,643.5 741.0,642.5 750.6,642.5 758.2,647.3 765.8,653.9 771.5,658.7 778.2,662.5 783.0,660.6 788.7,657.8 794.4,652.0 800.1,648.2 805.8,647.7 811.6,649.2 815.4,652.6 821.1,652.0 825.9,650.1 832.5,651.1 840.2,653.4 846.8,651.1 852.5,644.4 859.2,636.8 866.8,629.2 874.5,622.5 881.1,618.7 887.8,618.3 895.4,620.6 900.0,624.4 905.7,631.1 911.4,640.6 917.2,649.2 922.9,655.9 928.6,660.0 934.3,661.6 940.0,661.2 947.6,659.3 955.3,656.8 961.0,653.9 966.7,648.2 972.4,640.6 978.1,633.0 983.9,627.3 989.6,622.5 993.4,619.6 1001.0,619.6 1006.7,623.4 1012.5,627.8 1017.2,631.5 1023.9,630.7 1031.5,629.2 1039.1,627.3 1045.8,624.4 1052.5,620.2 1060.1,618.7 1067.7,618.1 1075.3,616.8 1081.1,616.4 1086.8,618.3 1093.5,621.5 1100.1,626.7 1105.8,630.1 1111.6,632.6 1116.3,632.0 1121.1,629.5 1126.8,629.5 1131.6,631.1 1137.3,636.8 1142.1,643.5 1145.9,647.7" fill="none" stroke="#ff0000" stroke-width="1" shape-rendering="crispEdges"/>
<polyline points="0.0,696.4 2.9,695.8 8.6,689.2 11.4,690.7 16.2,689.5 18.7,694.3 22.5,690.5 28.6,691.1 30.5,692.0 35.3,700.2 40.0,699.6 42.3,704.0 50.5,696.8 53.0,700.2 58.1,690.7 64.8,692.0 68.6,706.3 72.0,704.4 75.3,706.3 77.8,709.2 80.1,705.4 82.9,708.2 86.7,708.2 89.2,710.7 91.1,708.6 93.8,711.1 101.0,703.1 104.8,707.6 107.7,706.3 109.6,704.0 114.4,700.6 117.2,702.1 122.0,702.5 126.7,707.3 131.5,707.3 134.4,710.1 136.8,706.3 142.0,714.3 144.9,711.5 148.7,711.5 152.5,707.3 154.4,708.6 164.9,697.2 167.7,699.6 170.6,701.0 173.1,695.8 176.3,695.3 182.0,696.4 184.5,694.5 188.7,702.5 191.6,699.1 194.4,700.6 198.2,698.3 200.5,694.5 203.9,696.8 207.8,697.3 211.6,703.4 215.4,706.7 219.2,705.4 222.0,705.9 225.9,704.4 228.7,701.5 234.1,710.1 236.7,702.5 241.1,702.1 245.9,700.2 248.7,704.8 252.5,704.8 256.4,700.6 260.2,705.4 264.0,707.3 268.4,702.5 271.6,702.5 274.5,704.4 277.3,703.8 284.0,713.0 287.8,712.0 290.7,713.0 294.5,711.1 297.3,713.9 300.0,711.5 302.9,711.1 304.2,708.2 310.5,708.2 313.0,706.9 315.2,708.2 318.1,699.6 321.0,695.4 326.7,695.4 328.6,697.7 331.4,693.3 334.3,697.7 338.1,699.6 340.4,696.4 344.8,703.4 346.7,703.4 352.4,695.8 355.3,695.8 363.9,693.9 369.6,689.5 373.4,689.5 376.8,691.4 381.0,687.2 384.8,687.2 388.6,690.1 393.8,686.9 398.7,691.1 404.8,683.4 406.7,683.4 411.5,689.5 415.3,686.9 418.2,695.3 422.0,695.8 424.3,702.5 426.2,698.7 430.6,702.5 436.3,700.6 440.1,706.3 443.9,706.3 448.3,704.4 450.6,707.8 452.5,699.6 458.2,699.6 462.0,702.5 465.8,707.3 469.6,705.4 472.5,707.3 476.3,704.4 480.1,706.3 483.0,704.8 488.7,711.1 492.5,707.3 496.3,710.7 503.0,702.5 507.8,700.2 510.6,700.6 513.5,702.5 517.3,702.1 520.7,706.3 523.0,702.1 528.7,700.6 532.5,706.7 537.3,701.0 542.1,700.6 544.9,704.4 549.3,699.6 551.6,701.5 554.4,700.6 561.1,691.1 564.9,692.0 568.7,692.6 570.3,690.5 573.5,690.5 575.4,693.3 580.2,695.8 583.0,695.3 584.9,698.3 587.8,696.4 591.6,700.6 595.4,704.0 600.0,705.4 606.7,693.5 608.6,695.3 614.3,692.6 617.2,697.3 620.6,693.3 623.8,696.8 626.7,696.4 629.5,699.6 632.4,699.3 634.7,702.5 641.9,690.5 645.7,689.5 649.9,694.5 653.4,692.0 656.8,691.1 664.8,699.6 667.7,699.6 670.5,705.4 675.3,706.7 682.0,713.0 687.7,713.0 691.1,707.3 693.4,708.6 696.3,707.3 699.1,700.2 702.0,698.3 704.4,700.2 708.3,696.8 710.5,701.0 714.0,701.5 717.2,708.2 720.1,709.5 724.8,709.5 728.7,701.5 733.4,702.1 736.3,700.6 740.1,705.9 742.9,705.4 745.8,707.8 748.7,705.4 752.5,712.0 758.2,710.7 763.0,716.8 766.8,711.1 772.5,711.5 778.2,707.3 782.0,707.8 787.7,701.2 792.5,703.4 796.3,701.5 798.6,710.1 802.0,711.1 806.8,709.7 809.7,711.1 813.5,706.3 817.3,705.9 820.7,701.2 824.9,708.2 829.7,712.6 833.5,712.6 836.3,702.5 837.3,704.4 843.0,698.7 845.9,698.3 848.7,700.2 852.5,699.1 859.2,694.5 864.0,695.8 867.8,695.8 871.0,691.1 875.4,694.9 881.1,695.3 885.5,700.2 888.2,696.4 890.7,699.6 894.5,694.5 896.4,705.4 900.0,707.3 903.8,707.6 908.6,712.0 914.3,711.5 916.2,714.3 918.5,707.6 920.6,711.5 928.6,709.2 930.5,704.8 933.9,709.2 936.2,706.9 939.1,708.2 942.3,706.3 945.7,708.6 948.6,707.3 952.4,708.6 956.8,700.6 959.1,701.2 961.9,698.3 964.8,699.3 968.6,696.4 973.4,697.3 976.2,694.5 982.0,690.7 984.8,695.3 989.6,694.5 992.4,694.5 998.2,699.6 1001.0,705.9 1003.9,705.9 1008.6,699.6 1010.5,702.1 1017.2,698.3 1020.5,696.8 1022.9,699.6 1025.8,697.7 1028.7,699.3 1034.4,697.2 1039.1,691.4 1046.8,690.1 1048.7,688.8 1052.5,700.6 1054.8,696.4 1058.2,696.4 1062.0,693.3 1065.8,692.0 1068.7,691.1 1072.5,693.3 1076.3,691.6 1078.2,695.8 1085.8,699.6 1088.7,702.1 1090.6,700.6 1096.3,706.3 1098.2,702.9 1100.1,704.4 1103.9,699.3 1106.8,699.6 1108.7,703.4 1114.4,694.5 1117.3,697.2 1120.1,696.4 1124.9,704.0 1129.7,706.3 1137.3,713.6 1142.1,709.2 1145.5,707.3" fill="none" stroke="#1e90ff" stroke-width="1" shape-rendering="crispEdges"/>
<g fill="none" stroke="#ed1c24" stroke-width="3" stroke-linecap="butt" stroke-linejoin="round" shape-rendering="crispEdges"><path d="M1188.6 458.5 L1211.3 355 L1216 338 L1218.6 329.5"/><path d="M1207.2 338.5 L1212.5 334.3 L1218.6 329.5 L1221 335.5 L1223.6 343.8"/></g>
<g fill="none" stroke="#fff" stroke-width="3" stroke-linecap="butt" stroke-linejoin="round" shape-rendering="crispEdges"><path d="M1221.2 543 L1245.4 610.3"/><path d="M1237 600.5 L1245.4 610.3 L1247.2 596"/></g>
</svg>
<div class="t ttl" style="left:742px;top:1.7px;transform:scaleX(1.127)">Crude Oil</div>
<div class="t ttl" style="left:744.5px;top:39.7px;transform:scaleX(1.148)">H4 Chart</div>
<div class="t ax" style="top:27px">99.05</div>
<div class="t ax" style="top:76px">96.15</div>
<div class="t ax" style="top:125px">93.20</div>
<div class="t ax" style="top:174px">90.30</div>
<div class="t ax" style="top:223px">87.35</div>
<div class="t ax" style="top:272px">84.45</div>
<div class="t ax" style="top:321px">81.50</div>
<div class="t ax" style="top:370px">78.60</div>
<div class="t ax" style="top:419px">75.65</div>
<div class="t ax" style="top:468px">72.75</div>
<div class="t ax" style="top:517px">69.80</div>
<div class="t ax" style="top:566px">66.90</div>
<div class="t ax" style="top:441px;color:#0a1e3b">74.35</div>
<div class="t ax" style="left:1527px;top:596px">2.256</div>
<div class="t ax" style="left:1527px;top:626px">0.00</div>
<div class="t ax" style="left:1527px;top:656px">-2.264</div>
<div class="t ax" style="left:1527px;top:675px">100</div>
<div class="t ax" style="left:1527px;top:684px">70</div>
<div class="t ax" style="left:1527px;top:705px">30</div>
<div class="t ax" style="left:1527px;top:714px">0</div>
<div class="t lb bl" style="left:1180px;top:113.8px;transform:scaleX(1.138)">88.60</div>
<div class="t lb bl" style="left:1135px;top:279.3px;transform:scaleX(1.109)">82.70 - 83.50</div>
<div class="t lb w" style="left:1152px;top:468.8px;transform:scaleX(1.109)">73.30-50</div>
<div class="t lb bl" style="left:1164px;top:521.8px;transform:scaleX(1.128)">70.10</div>
<div class="t lb w" style="left:1221px;top:614.8px;transform:scaleX(1.157)">65.00</div>
</body></html>
